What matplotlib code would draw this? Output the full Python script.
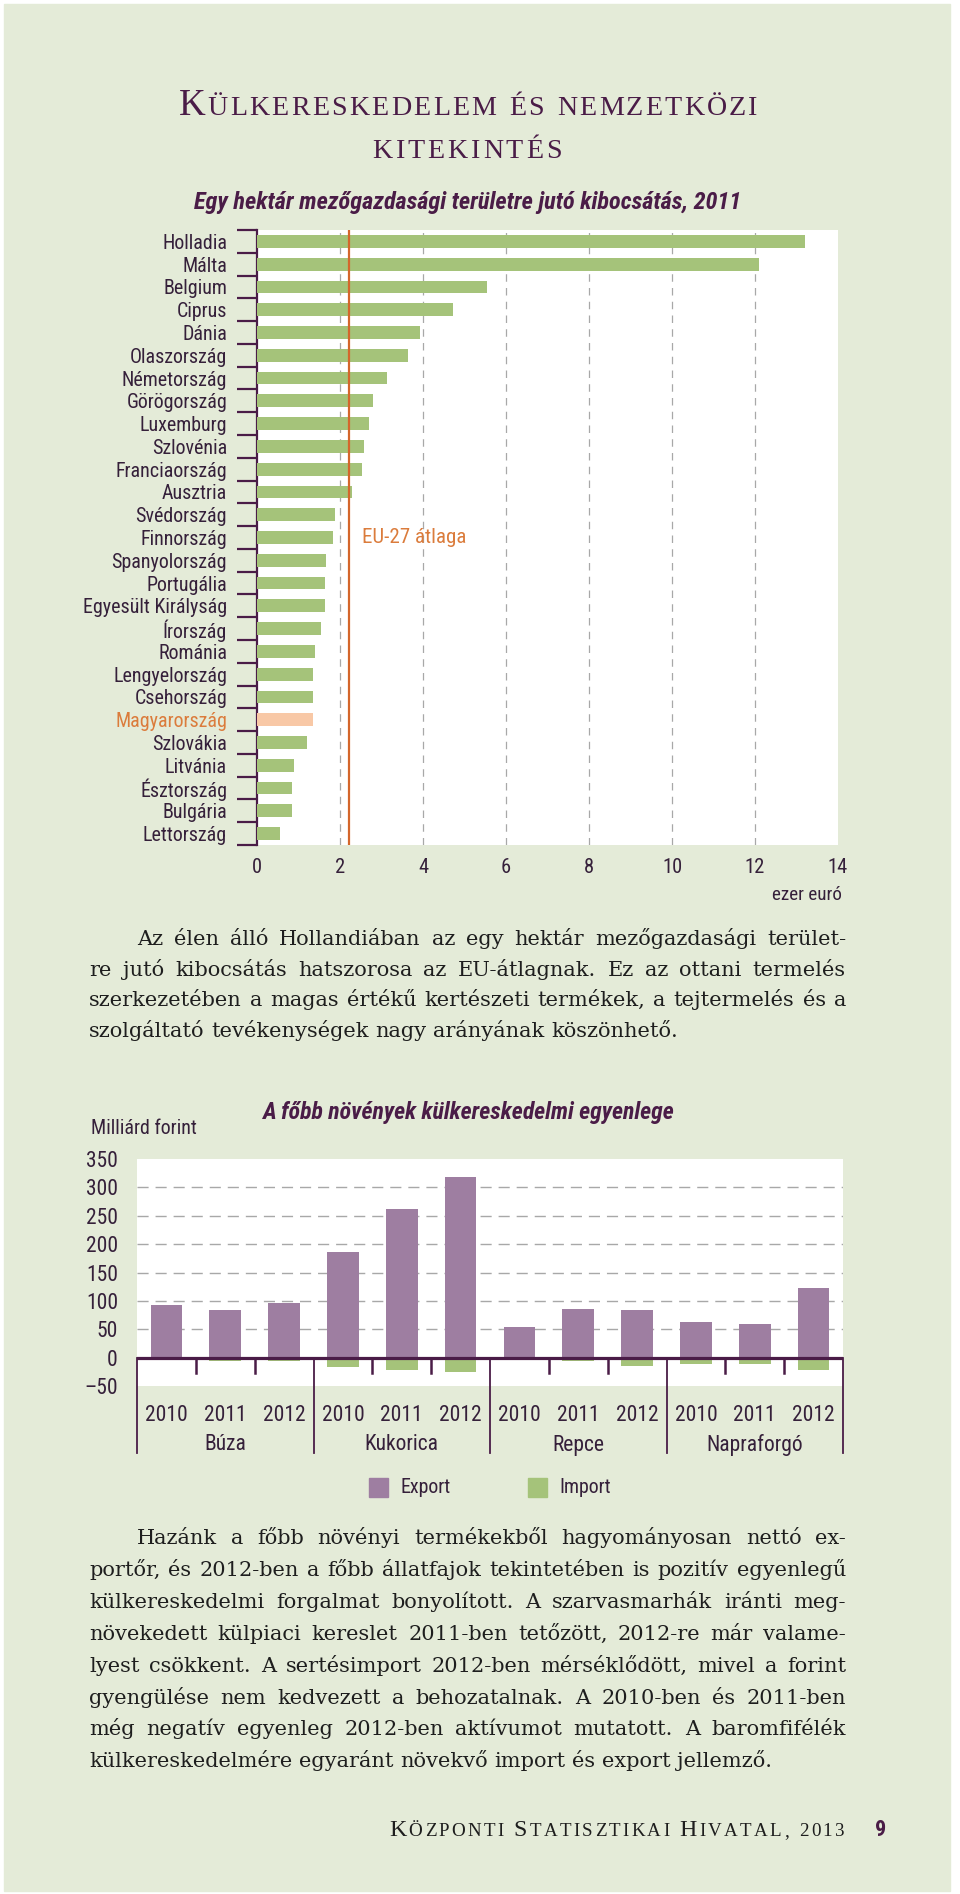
import numpy as np
import matplotlib
matplotlib.use('Agg')
import matplotlib.pyplot as plt
from matplotlib import font_manager as fm
from matplotlib import transforms
from matplotlib.patches import Rectangle

# --- adatok ---
countries = ['Holladia', 'Málta', 'Belgium', 'Ciprus', 'Dánia', 'Olaszország',
             'Németország', 'Görögország', 'Luxemburg', 'Szlovénia', 'Franciaország',
             'Ausztria', 'Svédország', 'Finnország', 'Spanyolország', 'Portugália',
             'Egyesült Királyság', 'Írország', 'Románia', 'Lengyelország', 'Csehország',
             'Magyarország', 'Szlovákia', 'Litvánia', 'Észtország', 'Bulgária', 'Lettország']
output_per_ha = [13.2, 12.1, 5.55, 4.72, 3.92, 3.63, 3.13, 2.80, 2.71, 2.57, 2.52,
                 2.28, 1.87, 1.82, 1.67, 1.63, 1.63, 1.54, 1.40, 1.36, 1.36, 1.36,
                 1.20, 0.89, 0.84, 0.84, 0.56]
eu_avg = 2.21
top_xticks = [0, 2, 4, 6, 8, 10, 12, 14]

crops = ['Búza', 'Kukorica', 'Repce', 'Napraforgó']
years = ['2010', '2011', '2012']
export = [93, 84, 96, 187, 262, 318, 54, 86, 84, 62, 60, 122]
imports = [-4, -6, -6, -16, -21, -25, -4, -6, -14, -12, -12, -21]
bal_yticks = [-50, 0, 50, 100, 150, 200, 250, 300, 350]

para1 = ['Az élen álló Hollandiában az egy hektár mezőgazdasági terület-',
         're jutó kibocsátás hatszorosa az EU-átlagnak. Ez az ottani termelés',
         'szerkezetében a magas értékű kertészeti termékek, a tejtermelés és a',
         'szolgáltató tevékenységek nagy arányának köszönhető.']
para2 = ['Hazánk a főbb növényi termékekből hagyományosan nettó ex-',
         'portőr, és 2012-ben a főbb állatfajok tekintetében is pozitív egyenlegű',
         'külkereskedelmi forgalmat bonyolított. A szarvasmarhák iránti meg-',
         'növekedett külpiaci kereslet 2011-ben tetőzött, 2012-re már valame-',
         'lyest csökkent. A sertésimport 2012-ben mérséklődött, mivel a forint',
         'gyengülése nem kedvezett a behozatalnak. A 2010-ben és 2011-ben',
         'még negatív egyenleg 2012-ben aktívumot mutatott. A baromfifélék',
         'külkereskedelmére egyaránt növekvő import és export jellemző.']

# --- szinek ---
BG = '#E4EBD8'
GREEN = '#A5C37A'
PEACH = '#F8C8A6'
ORANGE = '#D4662B'
ORANGE_T = '#DB7C3C'
PURPLE = '#4A1C47'
LBL = '#35203A'
MAUVE = '#9E7EA1'
GRID = '#A8A8A8'
BODY = '#1E1E1E'
SERIF = 'Liberation Serif'
BODYFONT = 'DejaVu Serif'


def pick_narrow():
    names = {f.name for f in fm.fontManager.ttflist}
    for n in ['Liberation Sans Narrow', 'Roboto Condensed', 'Open Sans Condensed', 'Arial Narrow']:
        if n in names:
            return n, 'normal'
    for fam in ['DejaVu Sans', 'Noto Sans', 'Open Sans', 'Roboto']:
        for f in fm.fontManager.ttflist:
            if f.name == fam and str(f.stretch) in ('condensed', 'semi-condensed', 'extra-condensed'):
                return fam, f.stretch
    return 'Roboto', 'normal'


NARROW, STRETCH = pick_narrow()

W, H = 960, 1894
fig = plt.figure(figsize=(W / 100, H / 100), dpi=100)
fig.patch.set_facecolor('white')
renderer = fig.canvas.get_renderer()


def fx(x):
    return x / W


def fy(y):
    return 1 - y / H


def pt(px):
    return px * 0.72


_cache = {}


def ink(s, size, family=SERIF, **kw):
    key = (s, size, family, tuple(sorted(kw.items())))
    if key not in _cache:
        t = fig.text(0, 0, s, fontsize=size, family=family, **kw)
        _cache[key] = t.get_window_extent(renderer).width
        t.remove()
    return _cache[key]


# keskeny betu meretezese a minta szelessegehez
NK = dict(fontstretch=STRETCH)
scale = 1.03 * 140 / ink('Egyesült Királyság', pt(20), NARROW, **NK)
scale = min(scale, 1.15)


def ns(px):
    return pt(px * scale)


def body_size(paras, x0, x1, indent):
    ref = pt(20)
    worst = 0
    for lines in paras:
        for i, line in enumerate(lines[:-1]):
            avail = x1 - x0 - (indent if i == 0 else 0)
            worst = max(worst, ink(line, ref, BODYFONT) / avail)
    return ref / worst * 0.985


def draw_para(lines, x0, x1, y0, dy, indent, size, color=BODY):
    sp = ink('a a', size, BODYFONT) - 2 * ink('a', size, BODYFONT)
    for i, line in enumerate(lines):
        words = line.split(' ')
        left = x0 + (indent if i == 0 else 0)
        y = y0 + i * dy
        ws = [ink(w, size, BODYFONT) for w in words]
        if i == len(lines) - 1:
            gap = sp
        else:
            gap = (x1 - left - sum(ws)) / (len(words) - 1)
        x = left
        for w, wd in zip(words, ws):
            fig.text(fx(x), fy(y), w, fontsize=size, family=BODYFONT, color=color,
                     ha='left', va='baseline')
            x += wd + gap


def small_caps(x, y, s, big, small, color, width, align='left'):
    items = []
    for ch in s:
        if ch.isupper():
            items.append((ch, big))
        else:
            items.append((ch.upper(), small))
    widths = [(small * 0.3 / 0.72) if ch == ' ' else ink(ch, sz) for ch, sz in items]
    track = (width - sum(widths)) / (len(items) - 1)
    if align == 'center':
        x -= width / 2
    elif align == 'right':
        x -= width
    for (ch, sz), wd in zip(items, widths):
        if ch != ' ':
            fig.text(fx(x), fy(y), ch, fontsize=sz, family=SERIF, color=color,
                     ha='left', va='baseline')
        x += wd + track


# oldal hatter
fig.add_artist(Rectangle((fx(4), fy(1891)), (950 - 4) / W, (1891 - 4) / H,
                         transform=fig.transFigure, color=BG, zorder=0))

# cim
small_caps(468, 115, 'Külkereskedelem és nemzetközi', pt(37), pt(28), PURPLE, 579, 'center')
small_caps(467, 158, 'kitekintés', pt(37), pt(28), PURPLE, 189, 'center')

fig.text(fx(468), fy(202), 'Egy hektár mezőgazdasági területre jutó kibocsátás, 2011',
         fontsize=ns(24.2), family=NARROW, weight='bold', style='italic', color=PURPLE,
         ha='center', va='center', **NK)

# --- 1. abra ---
ax1 = fig.add_axes([fx(257), fy(845), (838 - 257) / W, (845 - 230) / H])
ax1.set_facecolor('white')
ypos = np.arange(len(countries))
colors = [PEACH if c == 'Magyarország' else GREEN for c in countries]
ax1.barh(ypos, output_per_ha, height=0.56, color=colors, zorder=3)
ax1.set_xlim(0, 14)
ax1.set_ylim(len(countries) - 0.5, -0.5)
for g in top_xticks[1:-1]:
    ax1.axvline(g, color=GRID, lw=0.9, ls=(0, (6, 5)), zorder=1)
ax1.axvline(eu_avg, color=ORANGE, lw=1.6, zorder=4)
ax1.text(eu_avg + 0.32, 13, 'EU-27 átlaga', color=ORANGE_T, fontsize=ns(21),
         family=NARROW, va='center', ha='left', **NK)
for s in ['top', 'right', 'bottom']:
    ax1.spines[s].set_visible(False)
ax1.spines['left'].set_color(PURPLE)
ax1.spines['left'].set_linewidth(1.6)
ax1.set_yticks(np.arange(-0.5, len(countries)), [''] * (len(countries) + 1))
ax1.tick_params(axis='y', which='major', length=pt(20), width=1.6, color=PURPLE, direction='out')
ax1.set_yticks(ypos, countries, minor=True)
ax1.tick_params(axis='y', which='minor', length=0, pad=pt(30), labelsize=ns(20), labelcolor=LBL)
for lb in ax1.get_yticklabels(minor=True):
    lb.set_family(NARROW)
    lb.set_fontstretch(STRETCH)
    if lb.get_text() == 'Magyarország':
        lb.set_color(ORANGE_T)
ax1.set_xticks(top_xticks)
ax1.tick_params(axis='x', length=0, pad=pt(13), labelsize=ns(20.5), labelcolor=LBL)
for lb in ax1.get_xticklabels():
    lb.set_family(NARROW)
    lb.set_fontstretch(STRETCH)
fig.text(fx(842), fy(895), 'ezer euró', fontsize=ns(19), family=NARROW, color=LBL,
         ha='right', va='center', **NK)

# --- szovegek ---
PSIZE = body_size([para1, para2], 89, 846, 48)
draw_para(para1, 89, 846, 945, 30.5, 48, PSIZE)

# --- 2. abra ---
fig.text(fx(468), fy(1112), 'A főbb növények külkereskedelmi egyenlege',
         fontsize=ns(23.8), family=NARROW, weight='bold', style='italic', color=PURPLE,
         ha='center', va='center', **NK)
fig.text(fx(91), fy(1129), 'Milliárd forint', fontsize=ns(20), family=NARROW, color=LBL,
         ha='left', va='center', **NK)

ax2 = fig.add_axes([fx(137), fy(1386), (843 - 137) / W, (1386 - 1159) / H])
ax2.set_facecolor('white')
xpos = np.arange(len(export))
ax2.bar(xpos, export, 0.54, color=MAUVE, zorder=3)
ax2.bar(xpos, imports, 0.54, color=GREEN, zorder=3)
ax2.set_xlim(-0.5, len(export) - 0.5)
ax2.set_ylim(bal_yticks[0], bal_yticks[-1])
for v in bal_yticks[2:-1]:
    ax2.axhline(v, color=GRID, lw=1.0, ls=(0, (8, 5)), zorder=1)
ax2.axhline(0, color=PURPLE, lw=2.3, zorder=5)
for s in ax2.spines.values():
    s.set_visible(False)
ax2.set_yticks(bal_yticks, [('–' + str(-v)) if v < 0 else str(v) for v in bal_yticks])
ax2.tick_params(axis='y', length=0, pad=pt(19), labelsize=ns(21.5), labelcolor=LBL)
ax2.set_xticks(xpos, years * len(crops))
ax2.tick_params(axis='x', length=0, pad=pt(19), labelsize=ns(21.5), labelcolor=LBL)
for lb in ax2.get_xticklabels() + ax2.get_yticklabels():
    lb.set_family(NARROW)
    lb.set_fontstretch(STRETCH)

upp = (bal_yticks[-1] - bal_yticks[0]) / (1386 - 1159)   # egyseg / pixel
y_sep = bal_yticks[0] - (1453 - 1386) * upp
y_tick = bal_yticks[0] - (1373 - 1386) * upp
n = len(years)
for b in np.arange(-0.5, len(export), 1.0):
    if round(b + 0.5) % n == 0:
        ax2.plot([b, b], [0, y_sep], color=PURPLE, lw=1.3, clip_on=False, zorder=5)
    else:
        ax2.plot([b, b], [0, y_tick], color=PURPLE, lw=1.8, clip_on=False, zorder=5)
tr = transforms.blended_transform_factory(ax2.transData, fig.transFigure)
for i, c in enumerate(crops):
    ax2.text(i * n + (n - 1) / 2, fy(1445), c, transform=tr, ha='center', va='center',
             fontsize=ns(21.5), family=NARROW, color=LBL, **NK)

# jelmagyarazat
for x0, lab, col in [(369, 'Export', MAUVE), (528, 'Import', GREEN)]:
    fig.add_artist(Rectangle((fx(x0), fy(1497)), 19 / W, 19 / H, transform=fig.transFigure,
                             color=col))
    fig.text(fx(x0 + 31), fy(1487), lab, fontsize=ns(20), family=NARROW, color=LBL,
             ha='left', va='center', **NK)

draw_para(para2, 89, 846, 1544, 31.9, 48, PSIZE)

# lablec
small_caps(844, 1836, 'Központi Statisztikai Hivatal, 2013', pt(24), pt(19), BODY, 455, 'right')
fig.text(fx(881), fy(1836), '9', fontsize=ns(22), family=NARROW, weight='bold',
         color=PURPLE, ha='center', va='baseline', **NK)

fig.savefig('out.png', dpi=100, facecolor=fig.get_facecolor())
